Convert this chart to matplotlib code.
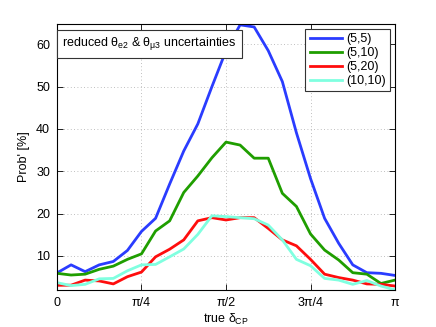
import numpy as np
import matplotlib.pyplot as plt

plt.rcParams['font.family'] = ['Liberation Sans', 'DejaVu Sans']
plt.rcParams['mathtext.fontset'] = 'custom'
plt.rcParams['mathtext.rm'] = 'Liberation Sans'
plt.rcParams['mathtext.it'] = 'Liberation Sans'

# true delta_CP sampled in steps of pi/24 (25 points)
delta = np.linspace(0, np.pi, 25)

prob_5_5 = [6.0, 7.9, 6.3, 7.9, 8.7, 11.3, 15.8, 18.9, 27.0, 34.8, 41.2, 50.0,
            58.5, 64.6, 64.1, 58.5, 51.2, 39.1, 28.3, 18.9, 13.0, 7.9, 6.05, 5.9, 5.4]
prob_5_10 = [5.9, 5.5, 5.7, 6.85, 7.6, 9.2, 10.5, 15.9, 18.3, 25.0, 28.9, 33.2,
             36.9, 36.2, 33.1, 33.1, 24.8, 21.7, 15.2, 11.4, 9.05, 6.05, 5.7, 3.5, 4.3]
prob_5_20 = [3.07, 3.1, 4.3, 4.1, 3.4, 5.1, 6.2, 9.8, 11.6, 13.8, 18.3, 19.05,
             18.5, 19.05, 19.05, 16.5, 13.8, 12.4, 9.2, 5.7, 4.9, 4.3, 3.4, 3.3, 2.9]
prob_10_10 = [3.7, 3.0, 3.3, 4.6, 4.7, 6.5, 7.9, 8.0, 9.8, 11.65, 15.1, 19.5,
              19.3, 19.05, 18.8, 17.3, 13.8, 9.2, 7.7, 4.7, 4.3, 3.3, 4.2, 2.9, 2.0]

labels = ['(5,5)', '(5,10)', '(5,20)', '(10,10)']
colors = ['#2a3cff', '#1f9e00', '#ff0d0d', '#80ffe0']
tick_vals = [0, np.pi / 4, np.pi / 2, 3 * np.pi / 4, np.pi]
tick_labels = ['0', 'π/4', 'π/2', '3π/4', 'π']

fig = plt.figure(figsize=(4.36, 3.27), dpi=100)
ax = fig.add_axes([0.1307, 0.113, 0.7753, 0.8136])

for y, lab, c in zip([prob_5_5, prob_5_10, prob_5_20, prob_10_10], labels, colors):
    ax.plot(delta, y, color=c, lw=2.0, label=lab)

ax.set_xlim(0, np.pi)
ax.set_ylim(1.95, 64.8)
ax.set_xticks(tick_vals)
ax.set_xticklabels(tick_labels)
ax.set_yticks([10, 20, 30, 40, 50, 60])
ax.tick_params(direction='in', top=True, right=True, labelsize=9, length=4, width=0.6, pad=5)
ax.grid(True, linestyle=(0, (1, 3)), color='#aaaaaa', lw=0.6)
for s in ax.spines.values():
    s.set_linewidth(0.8)

ax.set_xlabel(r'true $\delta_{\mathrm{CP}}$', fontsize=9, labelpad=2)
ax.set_ylabel("Prob' [%]", fontsize=9, labelpad=4)

ax.text(0.016, 0.958, r'reduced $\theta_{\mathrm{e2}}$ & $\theta_{\mu 3}$ uncertainties',
        transform=ax.transAxes, fontsize=9, va='top', ha='left',
        bbox=dict(boxstyle='square,pad=0.45', fc='white', ec='#333333', lw=0.8))

leg = ax.legend(loc='upper right', fontsize=9, handlelength=2.6, handletextpad=0.3,
                labelspacing=0.15, borderpad=0.35, fancybox=False, framealpha=1,
                edgecolor='#333333', borderaxespad=0.4)
leg.get_frame().set_linewidth(0.8)

fig.savefig('out.png', dpi=100)
